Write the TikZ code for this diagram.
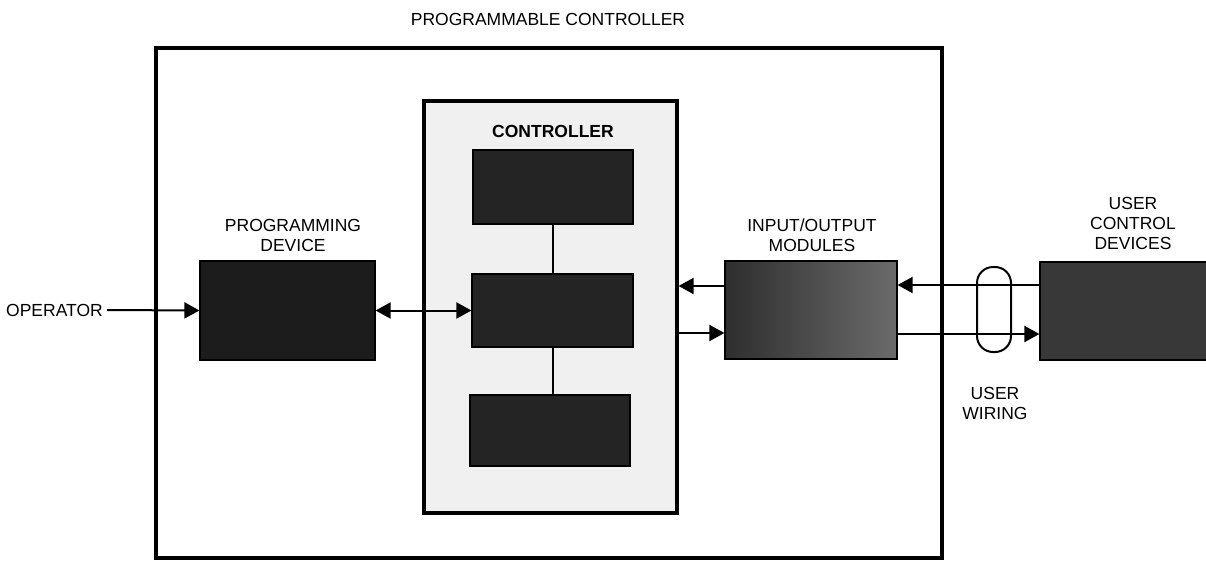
\documentclass[tikz,border=0pt]{standalone}
\usepackage{fontspec}
\setmainfont{Liberation Sans}
\usetikzlibrary{arrows.meta}
\definecolor{darkbox}{gray}{0.14}
\definecolor{ucdbox}{gray}{0.22}
\definecolor{progbox}{gray}{0.11}
\definecolor{ctrlfill}{gray}{0.94}
\tikzset{
  lbl/.style={inner sep=0pt, align=center, font=\fontsize{17.5}{20}\selectfont},
  blk/.style={draw=black, line width=1.2pt, inner sep=0pt},
  arr/.style={line width=2pt, -{Triangle[length=15pt,width=16pt]}},
  darr/.style={line width=2pt, {Triangle[length=15pt,width=16pt]}-{Triangle[length=15pt,width=16pt]}},
  wire/.style={line width=2pt}
}
\begin{document}
\begin{tikzpicture}[x=1pt,y=-1pt]
\useasboundingbox (0,0) rectangle (1206,560);
% outer box
\node[draw, line width=3.2pt, minimum width=786pt, minimum height=510pt, inner sep=0pt] (outer) at (549,303) {};
\node[lbl] (title) at (548,19) {PROGRAMMABLE CONTROLLER};
% controller
\node[draw, fill=ctrlfill, line width=3.2pt, minimum width=253pt, minimum height=412pt, inner sep=0pt] (ctrl) at (550.5,307) {};
\node[lbl, font=\fontsize{17.5}{20}\selectfont\bfseries] (ctrllbl) at (553,131) {CONTROLLER};
\node[blk, fill=darkbox, minimum width=160pt, minimum height=74pt] (c1) at (553,187) {};
\node[blk, fill=darkbox, minimum width=161pt, minimum height=73pt] (c2) at (552.5,310.5) {};
\node[blk, fill=darkbox, minimum width=160pt, minimum height=71pt] (c3) at (550,430.5) {};
\draw[wire] (c1.south) -- (c1.south |- c2.north);
\draw[wire] (c2.south) -- (c2.south |- c3.north);
% programming device
\node[blk, fill=progbox, minimum width=175pt, minimum height=99pt] (prog) at (287.5,310.5) {};
\node[lbl] (proglbl) at (293,235) {PROGRAMMING\\DEVICE};
\node[lbl, anchor=east] (op) at (103,310) {OPERATOR};
\draw[arr] ([xshift=4pt]op.east) -- (prog.west);
\draw[darr] (prog.east) -- (prog.east -| c2.west);
% I/O modules
\node[blk, left color=black!82, right color=black!58, minimum width=172pt, minimum height=98pt] (io) at (811,310) {};
\node[lbl] (iolbl) at (812,235) {INPUT/OUTPUT\\MODULES};
\draw[arr] ([yshift=24pt]io.west) coordinate (a1) -- (a1 -| ctrl.east);
\draw[arr] ([yshift=-23pt]ctrl.east |- io.west) coordinate (a2) -- (a2 -| io.west);
% user control devices
\node[blk, fill=ucdbox, minimum width=170pt, minimum height=98pt] (ucd) at (1125,311) {};
\node[lbl] (ucdlbl) at (1133,223) {USER\\CONTROL\\DEVICES};
\draw[arr] ([yshift=26pt]ucd.west) coordinate (b1) -- (b1 -| io.east);
\draw[arr] ([yshift=-23pt]ucd.west -| io.east) coordinate (b2) -- (b2 -| ucd.west);
% user wiring
\node[draw, line width=2pt, minimum width=34pt, minimum height=85pt, rounded corners=16pt, inner sep=0pt] (oval) at (994,309.5) {};
\node[lbl] (wirelbl) at (995,403) {USER\\WIRING};
\end{tikzpicture}
\end{document}
